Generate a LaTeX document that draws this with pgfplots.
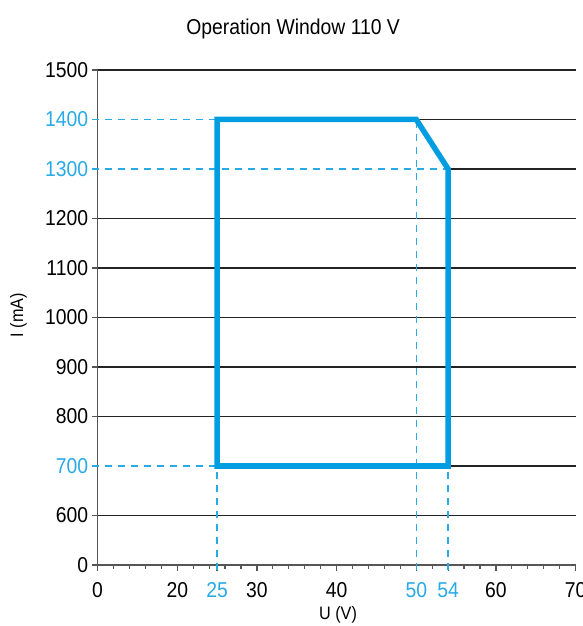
\documentclass[border=0pt]{standalone}
\usepackage{fontspec}
\setmainfont{Liberation Sans}[FakeStretch=0.9]
\usepackage{pgfplots}
\pgfplotsset{compat=1.18}
\definecolor{wblue}{RGB}{0,158,224}
\definecolor{lblue}{RGB}{40,170,230}
\definecolor{axgray}{RGB}{85,85,85}
\definecolor{gridblk}{RGB}{35,35,35}
\begin{document}
\begin{tikzpicture}
\begin{axis}[
 scale only axis, width=478pt, height=495pt,
 xmin=10, xmax=70, ymin=500, ymax=1500,
 axis x line*=bottom, axis y line*=left,
 xtick pos=left, ytick pos=left,
 axis line style={-, axgray, line width=1.8pt},
 xtick={10,20,25,30,40,50,54,60,70},
 xticklabels={0,20,\textcolor{lblue}{25},30,40,\textcolor{lblue}{50},\textcolor{lblue}{54},60,70},
 minor xtick={12,14,16,18,22,24,26,28,32,34,36,38,42,44,46,48,52,56,58,62,64,66,68},
 ytick={500,600,...,1500},
 yticklabels={0,600,\textcolor{lblue}{700},800,900,1000,1100,1200,\textcolor{lblue}{1300},\textcolor{lblue}{1400},1500},
 tick align=outside, tick style={axgray, line width=1.2pt},
 major tick length=6pt, minor tick length=4pt,
 ticklabel style={font=\fontsize{21.5}{24}\selectfont},
 xticklabel style={yshift=-8pt},
 /pgf/number format/assume math mode=true,
 clip=false,
 title={Operation Window 110 V},
 title style={at={(axis description cs:0.409,1)}, anchor=base, yshift=29pt, font=\fontsize{21.5}{24}\selectfont},
 xlabel={U (V)},
 xlabel style={at={(axis description cs:0.503,0)}, anchor=center, yshift=-50pt, font=\fontsize{18}{20}\selectfont},
 ylabel={I (mA)},
 ylabel style={at={(axis description cs:-0.1653,0.505)}, anchor=center, font=\fontsize{18}{20}\selectfont},
]
\coordinate (bl) at (rel axis cs:0,0);
% grid lines
\addplot[gridblk, line width=1.3pt] coordinates {(10,600) (70,600)};
\addplot[gridblk, line width=1.3pt] coordinates {(10,800) (70,800)};
\addplot[gridblk, line width=1.3pt] coordinates {(10,900) (70,900)};
\addplot[gridblk, line width=1.3pt] coordinates {(10,1000) (70,1000)};
\addplot[gridblk, line width=1.3pt] coordinates {(10,1100) (70,1100)};
\addplot[gridblk, line width=1.3pt] coordinates {(10,1200) (70,1200)};
\addplot[gridblk, line width=1.3pt] coordinates {(10,1500) (70,1500)};
\addplot[gridblk, line width=1.3pt] coordinates {(54,700) (70,700)};
\addplot[gridblk, line width=1.3pt] coordinates {(54,1300) (70,1300)};
\addplot[gridblk, line width=1.3pt] coordinates {(50,1400) (70,1400)};
% dashed guides
\addplot[lblue, line width=1.3pt, dash pattern=on 7pt off 6pt] coordinates {(9.3,1400) (25,1400)};
\addplot[lblue, line width=1.3pt, dash pattern=on 7pt off 6pt] coordinates {(9.3,1300) (54,1300)};
\addplot[lblue, line width=1.3pt, dash pattern=on 7pt off 6pt] coordinates {(9.3,700) (25,700)};
\addplot[lblue, line width=1.3pt, dash pattern=on 7pt off 6pt] coordinates {(25,490) (25,700)};
\addplot[lblue, line width=1.3pt, dash pattern=on 7pt off 6pt] coordinates {(50,490) (50,1400)};
\addplot[lblue, line width=1.3pt, dash pattern=on 7pt off 6pt] coordinates {(54,490) (54,700)};
% operation window
\addplot[wblue, line width=5.5pt, line join=miter] coordinates {(25,700) (25,1400) (50,1400) (54,1300) (54,700)} -- cycle;
\end{axis}
\pgfresetboundingbox
\path (bl) ++(-97.6pt,-61pt) rectangle ++(583pt,626pt);
\end{tikzpicture}
\end{document}
